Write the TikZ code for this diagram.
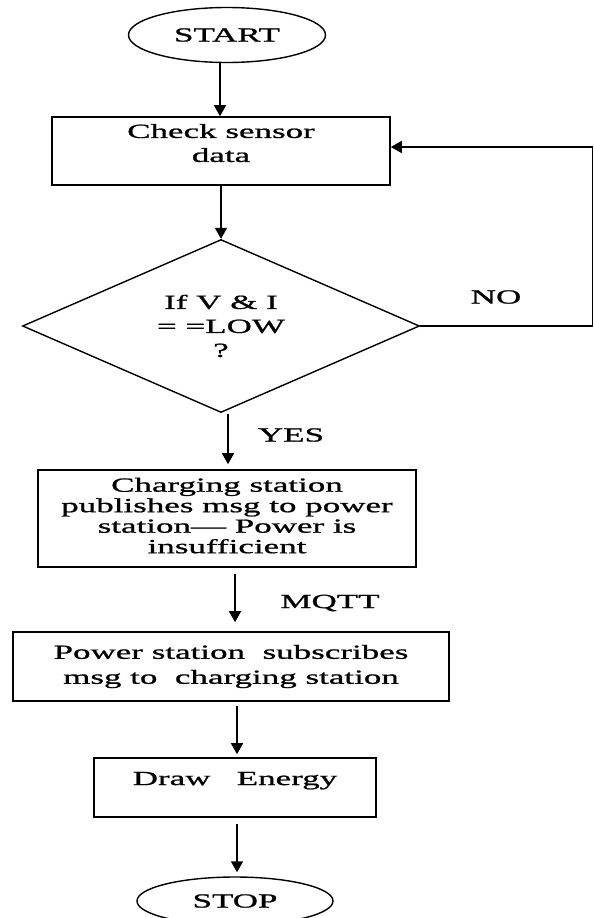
\documentclass[tikz,border=0pt]{standalone}
\usepackage{fontspec}
\setmainfont{Liberation Serif}[FakeStretch=1.75,FakeBold=1]
\usetikzlibrary{shapes.geometric,arrows.meta}
\begin{document}
\begin{tikzpicture}[x=1pt,y=-1pt,
  every node/.style={font=\fontsize{20}{24}\selectfont, inner sep=0pt},
  terminal/.style={draw, ellipse, line width=1.4pt},
  stepbox/.style={draw, rectangle, line width=1.6pt, align=center},
  decision/.style={draw, diamond, aspect=2.3, line width=1.4pt, align=center},
  flow/.style={line width=1.6pt, -{Triangle[width=12pt,length=11pt]}},
  lbl/.style={font=\fontsize{20}{24}\selectfont}
]
\useasboundingbox (0,0) rectangle (594,918);

\node[terminal, minimum width=197pt, minimum height=55pt] (start) at (227,35) {START};
\node[stepbox, minimum width=338pt, minimum height=68pt, text depth=16pt] (check) at (221,151) {Check sensor\\data};
\node[decision, minimum width=397pt, minimum height=173pt] (dec) at (221,326) {If V \& I\\= =LOW\\?};
\node[stepbox, minimum width=378pt, minimum height=97pt, font=\fontsize{20}{20.5}\selectfont, text depth=6pt] (charge) at (227,518.5) {Charging station\\publishes msg to power\\station--- Power is\\insufficient};
\node[stepbox, minimum width=436pt, minimum height=69pt, font=\fontsize{20}{25}\selectfont] (power) at (231,666.5) {Power station~ subscribes\\msg to~ charging station};
\node[stepbox, minimum width=282pt, minimum height=59pt, text depth=18pt] (draw) at (235,787.5) {Draw~~ Energy};
\node[terminal, minimum width=196pt, minimum height=48pt] (stop) at (235,901) {STOP};

\coordinate (loopc) at (592.5,147);

\node[lbl] (no) at (496,297) {NO};
\node[lbl] (yes) at (291,435) {YES};
\node[lbl] (mqtt) at (330,603) {MQTT};

\draw[flow] (start.south -| 220,0) -- (check.north -| 220,0);
\draw[flow] (check.south -| dec.north) -- (dec.north);
\draw[line width=1.6pt] (dec.east) -| (loopc);
\draw[flow] (loopc) -- (check.east |- loopc);
\draw[flow, shorten >=5pt] (228,414) -- (charge.north -| 228,0);
\draw[flow, shorten <=6pt, shorten >=9pt] (charge.south -| 235,0) -- (power.north -| 235,0);
\draw[flow, shorten <=4pt, shorten >=3pt] (power.south -| 237,0) -- (draw.north -| 237,0);
\draw[flow, shorten <=6pt, shorten >=4pt] (draw.south -| 237,0) -- (stop.north -| 237,0);
\end{tikzpicture}
\end{document}
